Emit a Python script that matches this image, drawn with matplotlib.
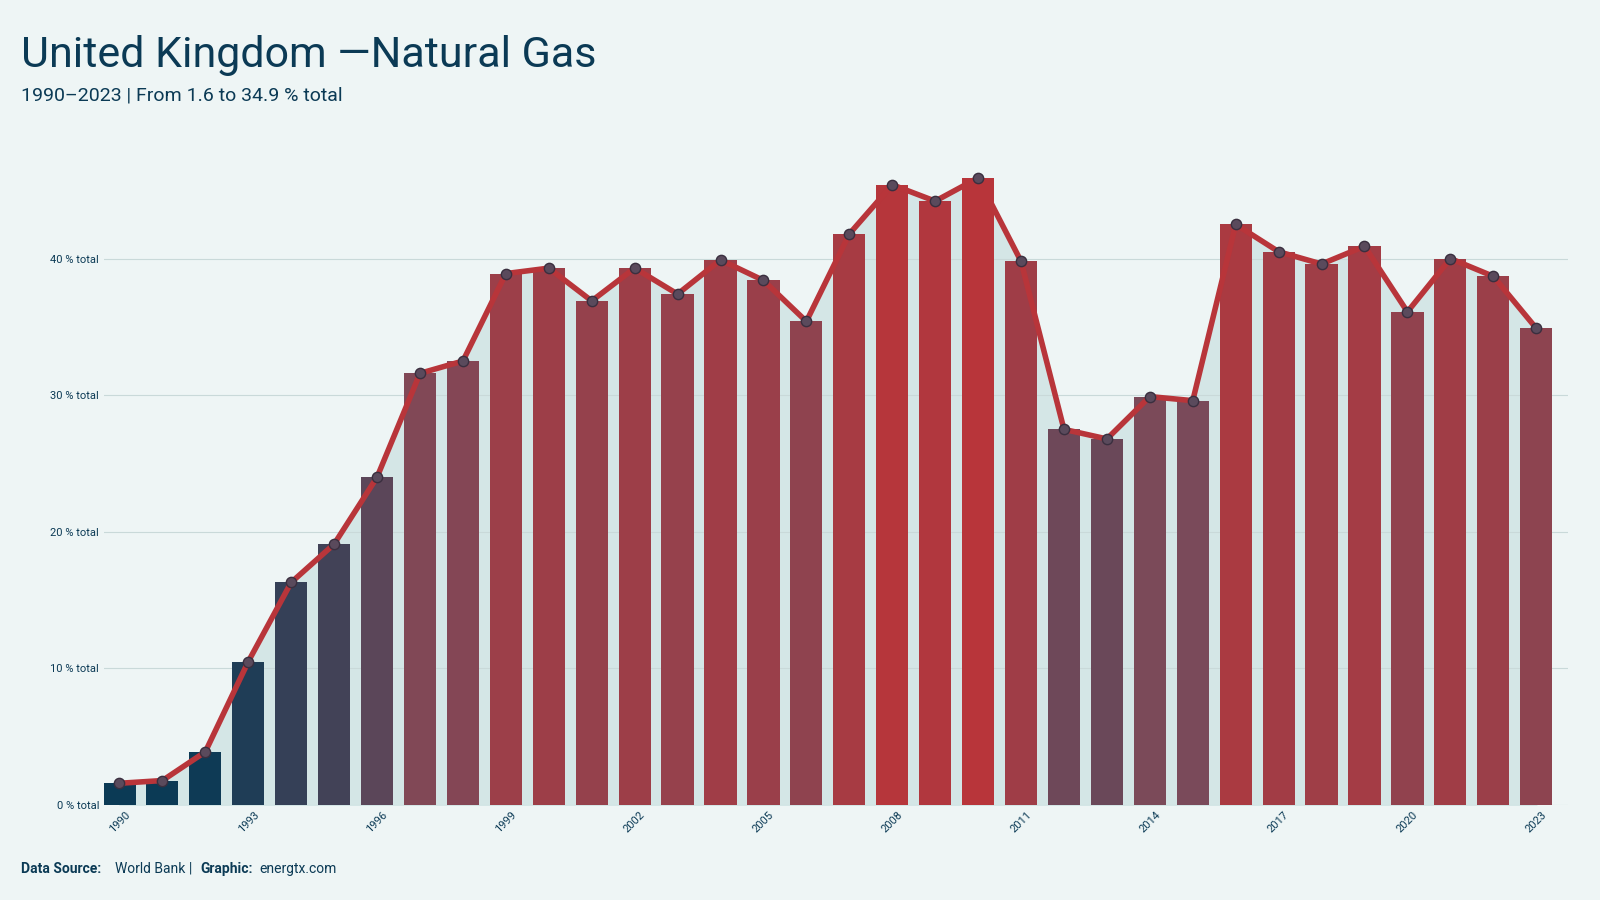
import numpy as np
import matplotlib.pyplot as plt
from matplotlib.colors import LinearSegmentedColormap

years = list(range(1990, 2024))
share = [1.6, 1.8, 3.9, 10.5, 16.3, 19.1, 24.0, 31.6, 32.5, 38.9,
         39.3, 36.9, 39.3, 37.4, 39.9, 38.4, 35.4, 41.8, 45.4, 44.2,
         45.9, 39.8, 27.5, 26.8, 29.9, 29.6, 42.5, 40.5, 39.6, 40.9,
         36.1, 40.0, 38.7, 34.9]
tick_years = list(range(1990, 2022, 3)) + [2023]
yticks = [0, 10, 20, 30, 40]

bg = '#eef5f5'
navy = '#0b3a55'
red = '#b8353a'
cmap = LinearSegmentedColormap.from_list('gr', [navy, '#7a4a5a', red])

plt.rcParams['font.family'] = ['Roboto', 'DejaVu Sans']
fig = plt.figure(figsize=(16, 9), dpi=100, facecolor=bg)
ax = fig.add_axes([0.065, 0.1054, 0.915, 0.7546], facecolor=bg)

vals = np.array(share)
norm = (vals - vals.min()) / (vals.max() - vals.min())
ax.fill_between(years, share, 0, color='#d4e6e6', zorder=1)
ax.bar(years, share, width=0.75, color=cmap(norm ** 1.5), zorder=2)
ax.plot(years, share, color=red, lw=4, zorder=3)
ax.scatter(years, share, s=55, color='#5a4a5c', edgecolor='#3a2f3f', lw=1, zorder=4)

ax.set_xlim(1989.64, 2023.74)
ax.set_ylim(0, 49.7)
ax.set_yticks(yticks)
ax.set_yticklabels([f'{v} % total' for v in yticks], fontsize=8, color=navy)
ax.set_xticks(tick_years)
ax.set_xticklabels([str(y) for y in tick_years], rotation=45, fontsize=8, color=navy)
ax.grid(axis='y', color='#c9d9d9', lw=0.8, zorder=0)
ax.tick_params(length=0)
for s in ax.spines.values():
    s.set_visible(False)

fig.text(0.013, 0.925, 'United Kingdom —Natural Gas', fontsize=31, color=navy)
fig.text(0.013, 0.888, '1990–2023 | From 1.6 to 34.9 % total', fontsize=14, color=navy)
fig.text(0.013, 0.03, 'Data Source:', fontsize=10, color=navy, weight='bold')
fig.text(0.072, 0.03, 'World Bank |', fontsize=10, color=navy)
fig.text(0.125, 0.03, 'Graphic:', fontsize=10, color=navy, weight='bold')
fig.text(0.162, 0.03, 'energtx.com', fontsize=10, color=navy)

fig.savefig('out.png', dpi=100, facecolor=bg)
